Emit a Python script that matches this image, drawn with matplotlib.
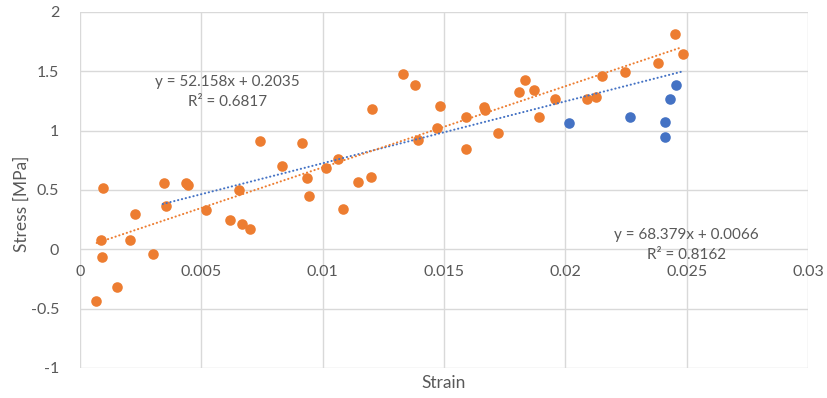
import numpy as np
import matplotlib.pyplot as plt

plt.rcParams['font.family'] = ['Lato', 'DejaVu Sans']

# orange series (strain, stress)
orange_x = [0.00096, 0.00085, 0.00089, 0.00066, 0.00154, 0.00227, 0.00206, 0.00302,
            0.00346, 0.00354, 0.00437, 0.00445, 0.00520, 0.00654, 0.00618, 0.00669,
            0.00702, 0.00743, 0.00834, 0.00916, 0.00934, 0.00943, 0.01014, 0.01062,
            0.01085, 0.01146, 0.01201, 0.01204, 0.01330, 0.01380, 0.01395, 0.01473,
            0.01484, 0.01592, 0.01592, 0.01664, 0.01669, 0.01723, 0.01808, 0.01835,
            0.01873, 0.01892, 0.01959, 0.02089, 0.02126, 0.02150, 0.02246, 0.02381,
            0.02451, 0.02484]
orange_y = [0.52, 0.078, -0.067, -0.434, -0.32, 0.30, 0.078, -0.037,
            0.56, 0.364, 0.56, 0.54, 0.33, 0.50, 0.244, 0.216,
            0.168, 0.91, 0.70, 0.896, 0.60, 0.448, 0.683, 0.76,
            0.34, 0.563, 0.61, 1.18, 1.48, 1.383, 0.924, 1.02,
            1.204, 1.118, 0.849, 1.198, 1.17, 0.98, 1.328, 1.425,
            1.339, 1.114, 1.266, 1.266, 1.28, 1.462, 1.493, 1.566,
            1.81, 1.647]

# blue series (visible points)
blue_x = [0.02017, 0.02267, 0.02411, 0.02411, 0.02430, 0.02457]
blue_y = [1.061, 1.114, 1.072, 0.950, 1.263, 1.387]

# linear trendlines: slope, intercept, R², x range
blue_fit = (52.158, 0.2035, 0.6817, 0.00341, 0.0248)
orange_fit = (68.379, 0.0066, 0.8162, 0.00069, 0.0248)

blue = '#4472C4'
orange = '#ED7D31'
grey = '#595959'

fig = plt.figure(figsize=(8.27, 3.98), dpi=100)
ax = fig.add_axes([0.0967, 0.0754, 0.977 - 0.0967, 0.970 - 0.0754])

ax.scatter(blue_x, blue_y, s=58, color=blue, zorder=3, linewidths=0)
ax.scatter(orange_x, orange_y, s=58, color=orange, zorder=3, linewidths=0)

for (m, b, r2, x0, x1), c in [(blue_fit, blue), (orange_fit, orange)]:
    xs = np.array([x0, x1])
    ax.plot(xs, m * xs + b, color=c, lw=1.5, linestyle=(0, (0.1, 1.8)),
            dash_capstyle='round', zorder=4)

ax.text(0.00608, 1.326, f"y = {blue_fit[0]}x + {blue_fit[1]}\nR² = {blue_fit[2]}",
        ha='center', va='center', color=grey, fontsize=11, linespacing=1.55)
ax.text(0.02498, 0.04, f"y = {orange_fit[0]}x + {orange_fit[1]}\nR² = {orange_fit[2]}",
        ha='center', va='center', color=grey, fontsize=11, linespacing=1.55)

ax.set_xlim(0, 0.03)
ax.set_ylim(-1, 2)
ax.set_xticks([0, 0.005, 0.01, 0.015, 0.02, 0.025, 0.03])
ax.set_xticklabels(['0', '0.005', '0.01', '0.015', '0.02', '0.025', '0.03'])
ax.set_yticks([-1, -0.5, 0, 0.5, 1, 1.5, 2])
ax.set_yticklabels(['-1', '-0.5', '0', '0.5', '1', '1.5', '2'])

ax.grid(True, color='#D9D9D9', lw=1)
ax.set_axisbelow(True)
for s in ax.spines.values():
    s.set_visible(False)
ax.spines['bottom'].set_position(('data', 0))
ax.tick_params(length=0, colors=grey, labelsize=11.5)
ax.tick_params(axis='x', pad=11)
ax.tick_params(axis='y', pad=15)

ax.set_xlabel('Strain', color=grey, fontsize=12.5)
ax.xaxis.set_label_coords(0.5, -0.02)
ax.set_ylabel('Stress [MPa]', color=grey, fontsize=12.5)
ax.yaxis.set_label_coords(-0.069, 0.46)

fig.savefig('out.png', dpi=100)
